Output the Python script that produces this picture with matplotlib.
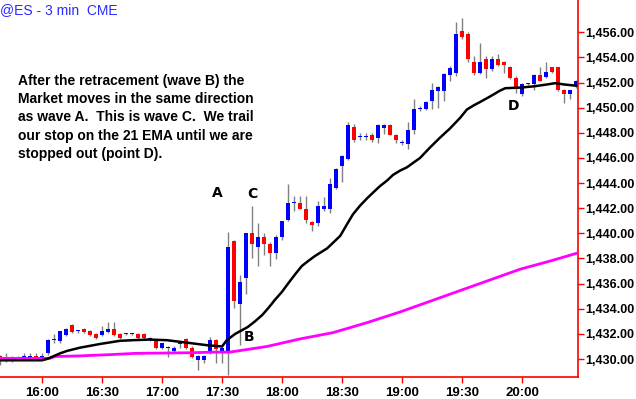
import matplotlib
matplotlib.use("Agg")
import matplotlib.pyplot as plt

# 3-minute bars starting 15:39 (index 0), one bar every 3 minutes
opens = [1430.25, 1430.0, 1430.0, 1430.0, 1430.1, 1430.1, 1430.25, 1430.1, 1430.45, 1431.5,
         1431.45, 1431.9, 1432.7, 1432.2, 1432.4, 1432.2, 1432.0, 1431.9, 1432.15, 1432.4,
         1432.0, 1432.0, 1432.0, 1432.0, 1432.0, 1431.5, 1431.4, 1430.9, 1430.9, 1430.65,
         1431.2, 1431.6, 1430.9, 1429.9, 1429.9, 1430.45, 1431.5, 1430.5, 1430.5, 1439.4,
         1434.4, 1436.45, 1440.0, 1438.9, 1439.75, 1439.15, 1438.4, 1439.7, 1441.1, 1442.4,
         1442.4, 1441.9, 1440.9, 1440.85, 1441.9, 1441.9, 1443.6, 1445.35, 1445.9, 1448.45,
         1447.65, 1447.65, 1447.85, 1447.6, 1448.4, 1448.65, 1447.85, 1447.2, 1447.15, 1448.2,
         1449.9, 1449.9, 1450.55, 1451.35, 1451.35, 1452.6, 1452.8, 1456.1, 1455.9, 1453.65,
         1452.8, 1453.9, 1453.1, 1453.85, 1453.65, 1453.2, 1452.4, 1451.1, 1451.9, 1451.9,
         1452.6, 1452.45, 1453.2, 1453.2, 1451.4, 1451.1, 1451.7]
highs = [1430.3, 1430.5, 1430.25, 1430.25, 1430.5, 1430.5, 1430.5, 1430.5, 1431.6, 1432.0,
         1432.2, 1432.5, 1432.75, 1432.3, 1432.5, 1432.3, 1432.05, 1432.6, 1432.95, 1432.95,
         1432.1, 1432.1, 1432.1, 1432.05, 1432.1, 1431.75, 1431.5, 1431.3, 1431.0, 1431.0,
         1431.3, 1431.7, 1431.0, 1430.3, 1430.3, 1431.75, 1431.6, 1431.0, 1440.1, 1439.45,
         1436.7, 1440.0, 1442.2, 1440.85, 1440.0, 1439.3, 1439.9, 1441.0, 1443.9, 1443.0,
         1443.0, 1443.0, 1441.0, 1442.6, 1442.9, 1444.4, 1445.2, 1446.2, 1448.9, 1448.7,
         1448.0, 1448.0, 1448.0, 1448.7, 1448.7, 1448.7, 1447.9, 1447.4, 1448.9, 1450.7,
         1450.1, 1450.5, 1451.95, 1451.7, 1452.8, 1453.3, 1456.85, 1457.1, 1456.0, 1454.1,
         1455.15, 1454.1, 1454.1, 1454.3, 1453.7, 1453.3, 1452.5, 1451.95, 1452.0, 1452.7,
         1453.2, 1453.65, 1453.25, 1453.25, 1451.5, 1451.4, 1452.2]
lows = [1429.5, 1429.8, 1429.8, 1429.9, 1430.0, 1430.0, 1430.0, 1430.0, 1430.3, 1431.3,
        1431.3, 1431.8, 1432.1, 1432.1, 1432.1, 1431.8, 1431.6, 1431.8, 1432.1, 1431.8,
        1431.6, 1431.9, 1431.9, 1431.6, 1431.6, 1431.4, 1430.8, 1430.8, 1430.2, 1430.5,
        1430.9, 1430.8, 1430.1, 1429.1, 1429.7, 1430.4, 1429.7, 1429.7, 1428.7, 1434.1,
        1431.1, 1435.2, 1438.0, 1437.4, 1438.3, 1437.4, 1437.95, 1439.5, 1441.0, 1441.8,
        1441.9, 1440.8, 1440.2, 1440.6, 1441.8, 1441.65, 1443.5, 1444.1, 1445.8, 1447.3,
        1447.4, 1447.4, 1447.3, 1447.2, 1447.9, 1447.8, 1447.2, 1447.0, 1446.7, 1447.9,
        1449.7, 1449.8, 1449.9, 1450.0, 1450.5, 1452.1, 1452.5, 1455.5, 1453.6, 1452.6,
        1452.7, 1452.35, 1452.9, 1453.3, 1452.8, 1452.3, 1451.2, 1450.9, 1451.8, 1451.4,
        1452.1, 1452.4, 1452.8, 1451.3, 1450.35, 1450.7, 1451.6]
closes = [1430.0, 1430.0, 1430.0, 1430.0, 1430.25, 1430.25, 1430.1, 1430.25, 1431.5, 1431.5,
          1432.2, 1432.4, 1432.15, 1432.2, 1432.15, 1431.9, 1431.7, 1432.2, 1432.4, 1431.9,
          1431.7, 1432.0, 1432.0, 1431.7, 1431.7, 1431.7, 1430.9, 1431.25, 1430.9, 1430.9,
          1431.2, 1430.9, 1430.2, 1430.25, 1430.25, 1431.5, 1430.8, 1430.9, 1438.95, 1434.65,
          1436.1, 1440.0, 1439.15, 1439.75, 1439.15, 1438.4, 1439.75, 1440.95, 1442.4, 1442.4,
          1441.95, 1441.1, 1440.65, 1442.2, 1442.2, 1443.9, 1445.15, 1446.15, 1448.65, 1447.4,
          1447.65, 1447.65, 1447.4, 1448.65, 1448.65, 1447.85, 1447.4, 1447.2, 1448.2, 1449.9,
          1449.9, 1450.45, 1451.4, 1451.65, 1452.65, 1453.15, 1455.9, 1455.6, 1453.85, 1452.8,
          1453.65, 1453.1, 1453.9, 1453.4, 1453.4, 1452.4, 1451.45, 1451.9, 1451.9, 1452.6,
          1452.15, 1452.85, 1452.85, 1451.4, 1451.1, 1451.4, 1452.15]

# 21 EMA (black) and slow EMA (magenta), read at bar positions
ema21_bar = [0, 7, 7.8, 8.8, 10, 11.2, 13.3, 15, 16.7, 20, 22.2, 25, 27.8, 31.2, 34.5, 37,
             37.8, 39.2, 41.3, 42.5, 43.7, 44.8, 45.8, 47, 48, 49.2, 50.3, 51.5, 52.5, 54.5,
             55.5, 56.7, 57.8, 58.8, 60, 61.2, 62.3, 63.3, 64.5, 65.5, 66.7, 67.8, 70, 71.7,
             73.3, 75, 76.7, 77.8, 79, 80, 81.7, 83.3, 84.2, 86.7, 89, 91.2, 92.5, 94, 96]
ema21_val = [1429.9, 1429.9, 1430.0, 1430.2, 1430.45, 1430.65, 1430.9, 1431.05, 1431.2,
             1431.45, 1431.5, 1431.55, 1431.5, 1431.3, 1431.1, 1431.0, 1431.5, 1432.0,
             1432.55, 1433.0, 1433.5, 1434.1, 1434.7, 1435.35, 1436.0, 1436.75, 1437.4,
             1437.85, 1438.2, 1438.8, 1439.25, 1439.8, 1440.7, 1441.5, 1442.2, 1442.8,
             1443.3, 1443.75, 1444.2, 1444.65, 1445.0, 1445.25, 1446.0, 1446.85, 1447.6,
             1448.35, 1449.2, 1449.85, 1450.2, 1450.45, 1450.9, 1451.35, 1451.55, 1451.6,
             1451.7, 1451.85, 1451.95, 1451.85, 1451.75]
ema_slow_bar = [0, 8.3, 9.2, 13.3, 18.3, 22.5, 31.7, 35.8, 38.3, 44.5, 50, 55.5, 61.2,
                66.7, 71.7, 76.7, 81.7, 86.7, 91.7, 96]
ema_slow_val = [1430.05, 1430.05, 1430.2, 1430.25, 1430.35, 1430.45, 1430.5, 1430.55,
                1430.55, 1431.0, 1431.6, 1432.1, 1432.9, 1433.75, 1434.6, 1435.45,
                1436.3, 1437.15, 1437.8, 1438.4]

tick_bars = [7, 17, 27, 37, 47, 57, 67, 77, 87]
tick_labels = ["16:00", "16:30", "17:00", "17:30", "18:00", "18:30", "19:00", "19:30", "20:00"]
price_ticks = [1430, 1432, 1434, 1436, 1438, 1440, 1442, 1444, 1446, 1448, 1450, 1452, 1454, 1456]

wave_labels = ["A", "B", "C", "D"]
wave_bars = [36.3, 41.5, 42.0, 85.5]
wave_prices = [1443.2, 1431.75, 1443.1, 1450.15]

fig = plt.figure(figsize=(6.36, 3.99), dpi=100)
ax = fig.add_axes([0, 22 / 399, 578 / 636, 377 / 399])

n = len(opens)
x = list(range(n))
colors = ["#0000ff" if c >= o else "#ff0000" for o, c in zip(opens, closes)]
bottoms = [min(o, c) for o, c in zip(opens, closes)]
heights = [max(abs(c - o), 0.09) for o, c in zip(opens, closes)]

ax.vlines(x, lows, highs, color="#808080", linewidth=1, zorder=1)
ax.bar(x, heights, bottom=bottoms, width=0.8, color=colors, linewidth=0, zorder=2)

ax.plot(ema_slow_bar, ema_slow_val, color="#ff00ff", linewidth=2, zorder=3)
ax.plot(ema21_bar, ema21_val, color="black", linewidth=1.8, zorder=4)

for lab, b, p in zip(wave_labels, wave_bars, wave_prices):
    ax.text(b, p, lab, fontsize=10, fontweight="bold", ha="center", va="center", zorder=5)

ax.set_xlim(0, 96.33)
ax.set_ylim(1428.57, 1458.57)

ax.set_xticks(tick_bars)
ax.set_xticklabels(tick_labels)
ax.set_yticks(price_ticks)
ax.set_yticklabels(["{:,.2f}".format(p) for p in price_ticks])
ax.yaxis.tick_right()

for side in ["top", "left"]:
    ax.spines[side].set_visible(False)
for side in ["right", "bottom"]:
    ax.spines[side].set_color("red")
    ax.spines[side].set_linewidth(1.2)
ax.tick_params(axis="both", colors="red", length=4, width=1, labelcolor="black",
               labelsize=9.5)
ax.tick_params(axis="y", pad=1.5, labelsize=9)
for lab in ax.get_xticklabels() + ax.get_yticklabels():
    lab.set_fontweight("bold")
    lab.set_family("Liberation Sans")

fig.text(0, 1 - 10 / 399, "@ES - 3 min  CME", color="#2a2aff", fontsize=10,
         family="Liberation Sans", va="center", ha="left")

note = ("After the retracement (wave B) the\n"
        "Market moves in the same direction\n"
        "as wave A.  This is wave C.  We trail\n"
        "our stop on the 21 EMA until we are\n"
        "stopped out (point D).")
fig.text(18 / 636, 1 - 74 / 399, note, fontsize=10, fontweight="bold",
         family="Liberation Sans", va="top", ha="left", linespacing=1.38)

fig.savefig("out.png", dpi=100)
